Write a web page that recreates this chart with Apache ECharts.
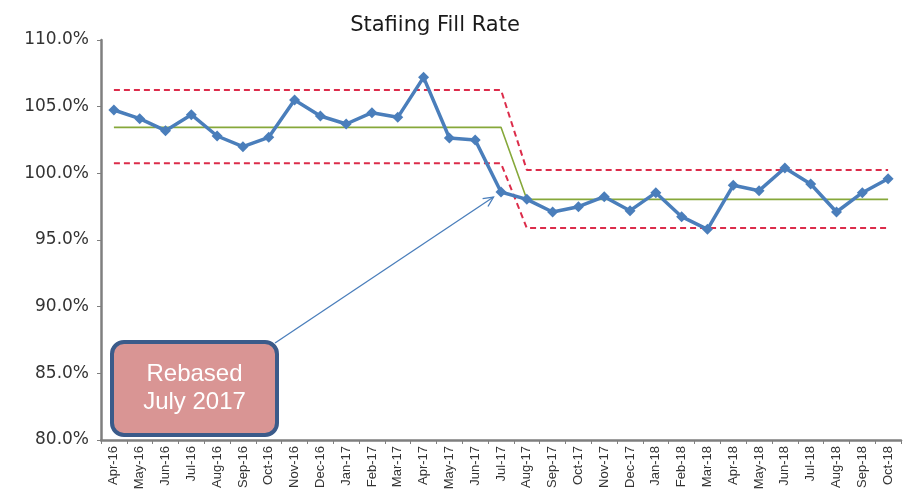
<!DOCTYPE html>
<html>
<head>
<meta charset="utf-8">
<script src="https://cdn.jsdelivr.net/npm/echarts@6/dist/echarts.min.js"></script>
<style>
  html, body { margin: 0; padding: 0; background: #fff; }
  #chart { width: 904px; height: 502px; }
</style>
</head>
<body>
<div id="chart"></div>
<script>
// months on the x axis
const months = [
  "Apr-16", "May-16", "Jun-16", "Jul-16", "Aug-16", "Sep-16", "Oct-16", "Nov-16",
  "Dec-16", "Jan-17", "Feb-17", "Mar-17", "Apr-17", "May-17", "Jun-17", "Jul-17",
  "Aug-17", "Sep-17", "Oct-17", "Nov-17", "Dec-17", "Jan-18", "Feb-18", "Mar-18",
  "Apr-18", "May-18", "Jun-18", "Jul-18", "Aug-18", "Sep-18", "Oct-18"
];
// fill rate (%)
const fillRate = [
  104.75, 104.1, 103.2, 104.4, 102.8, 102.0, 102.7, 105.5,
  104.3, 103.7, 104.55, 104.2, 107.2, 102.65, 102.5, 98.6,
  98.05, 97.1, 97.5, 98.25, 97.2, 98.55, 96.75, 95.8,
  99.1, 98.7, 100.4, 99.2, 97.1, 98.55, 99.6
];
// mean line (rebased after Jul-17)
const meanLine = [
  103.45, 103.45, 103.45, 103.45, 103.45, 103.45, 103.45, 103.45,
  103.45, 103.45, 103.45, 103.45, 103.45, 103.45, 103.45, 103.45,
  98.05, 98.05, 98.05, 98.05, 98.05, 98.05, 98.05, 98.05,
  98.05, 98.05, 98.05, 98.05, 98.05, 98.05, 98.05
];
// upper control limit
const upperLimit = [
  106.25, 106.25, 106.25, 106.25, 106.25, 106.25, 106.25, 106.25,
  106.25, 106.25, 106.25, 106.25, 106.25, 106.25, 106.25, 106.25,
  100.25, 100.25, 100.25, 100.25, 100.25, 100.25, 100.25, 100.25,
  100.25, 100.25, 100.25, 100.25, 100.25, 100.25, 100.25
];
// lower control limit
const lowerLimit = [
  100.75, 100.75, 100.75, 100.75, 100.75, 100.75, 100.75, 100.75,
  100.75, 100.75, 100.75, 100.75, 100.75, 100.75, 100.75, 100.75,
  95.9, 95.9, 95.9, 95.9, 95.9, 95.9, 95.9, 95.9,
  95.9, 95.9, 95.9, 95.9, 95.9, 95.9, 95.9
];

const redDash = "#dc2c4a";

let myChart = echarts.init(document.getElementById("chart"));
let option = {
  animation: false,
  title: {
    text: "Stafiing Fill Rate",
    left: 430,
    textAlign: "center",
    top: 10,
    textStyle: { fontFamily: "DejaVu Sans", fontSize: 21, fontWeight: "normal", color: "#1a1a1a" },
  },
  grid: { left: 101, right: 3, top: 40, bottom: 62 },
  xAxis: {
    type: "category",
    data: months,
    boundaryGap: true,
    axisLine: { lineStyle: { color: "#7f7f7f", width: 2.5 } },
    axisTick: { show: true, length: 4, lineStyle: { color: "#7f7f7f" } },
    axisLabel: {
      rotate: 90,
      interval: 0,
      fontFamily: "Liberation Sans",
      fontSize: 13,
      color: "#333",
      margin: 6,
    },
  },
  yAxis: {
    type: "value",
    min: 80,
    max: 110,
    interval: 5,
    splitLine: { show: false },
    axisLine: { show: true, lineStyle: { color: "#7f7f7f", width: 2.5 } },
    axisTick: { show: true, length: 4, lineStyle: { color: "#7f7f7f" } },
    axisLabel: {
      fontFamily: "DejaVu Sans",
      fontSize: 17,
      color: "#333",
      margin: 12,
      formatter: (v) => v.toFixed(1) + "%",
    },
  },
  series: [
    {
      name: "Upper",
      type: "line",
      data: upperLimit,
      symbol: "none",
      lineStyle: { color: redDash, width: 2, type: [6, 4] },
      z: 2,
    },
    {
      name: "Lower",
      type: "line",
      data: lowerLimit,
      symbol: "none",
      lineStyle: { color: redDash, width: 2, type: [6, 4] },
      z: 2,
    },
    {
      name: "Mean",
      type: "line",
      data: meanLine,
      symbol: "none",
      lineStyle: { color: "#86a83a", width: 1.6 },
      z: 3,
    },
    {
      name: "Fill Rate",
      type: "line",
      data: fillRate,
      symbol: "diamond",
      symbolSize: 11,
      itemStyle: { color: "#4a7ebb" },
      lineStyle: { color: "#4a7ebb", width: 3.5 },
      z: 5,
    },
  ],
};
myChart.setOption(option);

// 注释框 + 箭头，箭头指向 Jul-17 的点
const boxX = 112, boxY = 342, boxW = 165, boxH = 93;
const start = [boxX + boxW - 2, boxY + 1];
const pt = myChart.convertToPixel({ seriesIndex: 3 }, ["Jul-17", 98.6]);
const dx = pt[0] - start[0], dy = pt[1] - start[1];
const len = Math.sqrt(dx * dx + dy * dy);
const ux = dx / len, uy = dy / len;
const tip = [pt[0] - ux * 9, pt[1] - uy * 9];
const headLen = 11, headAng = 0.45;
const ang = Math.atan2(uy, ux);
const h1 = [tip[0] - headLen * Math.cos(ang - headAng), tip[1] - headLen * Math.sin(ang - headAng)];
const h2 = [tip[0] - headLen * Math.cos(ang + headAng), tip[1] - headLen * Math.sin(ang + headAng)];

myChart.setOption({
  graphic: [
    {
      type: "line",
      shape: { x1: start[0], y1: start[1], x2: tip[0], y2: tip[1] },
      style: { stroke: "#4a7ebb", lineWidth: 1.3 },
      z: 10,
    },
    {
      type: "polyline",
      shape: { points: [h1, tip, h2] },
      style: { stroke: "#4a7ebb", lineWidth: 1.3, fill: null },
      z: 10,
    },
    {
      type: "rect",
      shape: { x: boxX, y: boxY, width: boxW, height: boxH, r: 12 },
      style: { fill: "#d99594", stroke: "#3b5b8a", lineWidth: 4 },
      z: 11,
    },
    {
      type: "text",
      x: boxX + boxW / 2,
      y: boxY + boxH / 2,
      style: {
        text: "Rebased\nJuly 2017",
        fill: "#fff",
        font: "24px Liberation Sans",
        align: "center",
        verticalAlign: "middle",
        lineHeight: 28,
      },
      z: 12,
    },
  ],
});
</script>
</body>
</html>
